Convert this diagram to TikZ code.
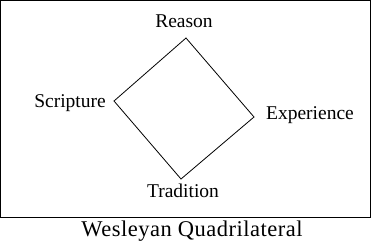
\documentclass[tikz,border=0pt]{standalone}
\usepackage{fontspec}
\setmainfont{Liberation Serif}
\begin{document}
\begin{tikzpicture}[x=1pt,y=-1pt]
  \useasboundingbox (0,0) rectangle (372,247);
  \tikzset{corner/.style={font=\fontsize{19.5}{22}\selectfont, inner sep=0pt}}
  \draw[line width=1pt] (0.5,0.5) rectangle (370.5,217);
  % corners of the diamond
  \coordinate (top) at (186,38);
  \coordinate (left) at (114,101);
  \coordinate (bottom) at (181,179);
  \coordinate (right) at (254,117);
  \draw[line width=0.8pt] (top) -- (right) -- (bottom) -- (left) -- cycle;
  \node[corner] (reason) at (184,21) {Reason};
  \node[corner] (scripture) at (70,103) {Scripture};
  \node[corner] (experience) at (310,115) {Experience};
  \node[corner] (tradition) at (183,191) {Tradition};
  \node[font=\fontsize{22.5}{26}\selectfont\addfontfeature{LetterSpace=2.2}, inner sep=0pt] (title) at (192,231) {Wesleyan Quadrilateral};
\end{tikzpicture}
\end{document}
